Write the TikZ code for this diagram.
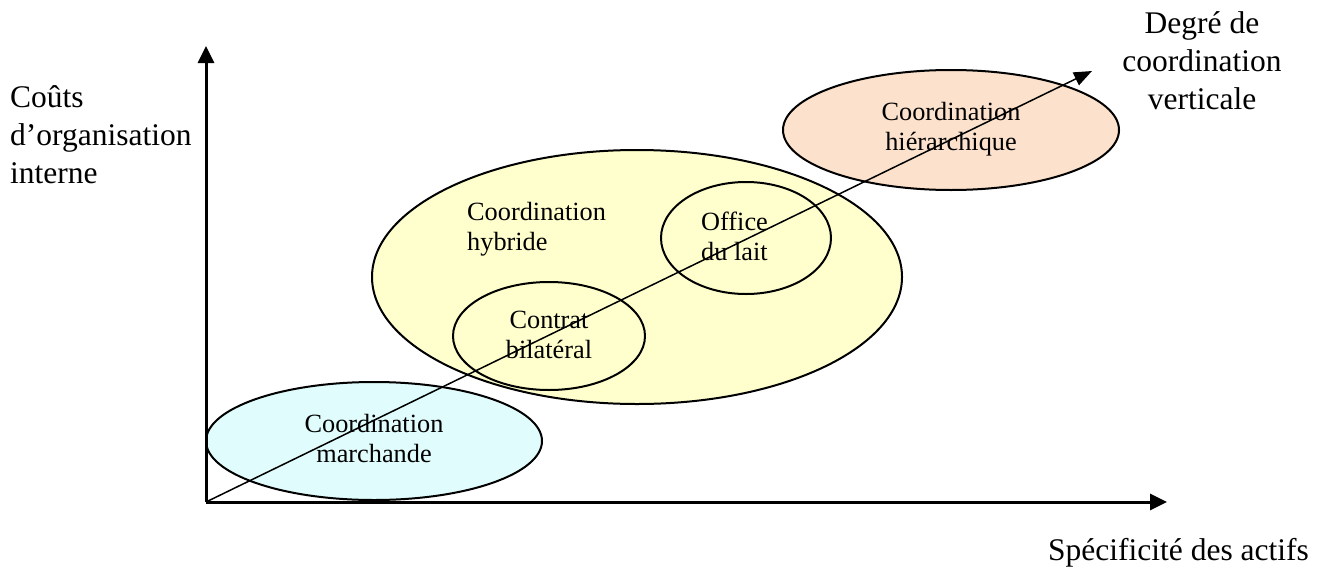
\documentclass[tikz,border=0pt]{standalone}
\usepackage{fontspec}
\setmainfont{Liberation Serif}
\usetikzlibrary{arrows.meta,shapes.geometric}
\definecolor{cyanfill}{RGB}{224,252,252}
\definecolor{yellowfill}{RGB}{255,255,206}
\definecolor{peachfill}{RGB}{252,226,204}
\tikzset{
  zone/.style={draw=black,line width=2pt},
  inner/.style={font=\fontsize{26.3}{30.5}\selectfont,align=center,inner sep=0pt,anchor=base},
  outer/.style={font=\fontsize{31.5}{38}\selectfont,inner sep=0pt},
  axis/.style={line width=3pt,-{Triangle[length=17pt,width=16pt]}},
  diag/.style={line width=1.5pt,-{Triangle[length=18pt,width=14pt]}}
}
\begin{document}
\begin{tikzpicture}[x=1pt,y=-1pt]
\useasboundingbox (0,0) rectangle (1324,570);
% zones
\draw[zone,fill=peachfill] (951,130) ellipse [x radius=168,y radius=60];
\draw[zone,fill=yellowfill] (637,277) ellipse [x radius=265,y radius=127];
\draw[zone] (549,336) ellipse [x radius=96,y radius=54];
\draw[zone] (746,238) ellipse [x radius=85,y radius=56];
\draw[zone,fill=cyanfill] (374,441) ellipse [x radius=168,y radius=59];
% labels in zones (base anchor = baseline of last line)
\node[inner] (march) at (374,462.5) {Coordination\\marchande};
\node[inner,align=left,anchor=base west] (hyb) at (467,250.5) {Coordination\\hybride};
\node[inner] (contrat) at (549,358.5) {Contrat\\bilatéral};
\node[inner,align=left,anchor=base west] (office) at (701,260.5) {Office\\du lait};
\node[inner] (hier) at (951,150.5) {Coordination\\hiérarchique};
% axes
\coordinate (O) at (206,502);
\coordinate (Ytip) at (206,46);
\coordinate (Xtip) at (1167,502);
\coordinate (Dtip) at (1092,71);
\draw[axis] (O) -- (Ytip);
\draw[axis] (O) -- (Xtip);
\draw[diag] (O) -- (Dtip);
% axis labels
\node[outer,align=left,anchor=base west] (ylab) at (10,183) {Coûts\\d’organisation\\interne};
\node[outer,align=center,anchor=base] (dlab) at (1202,109) {Degré de\\coordination\\verticale};
\node[outer,anchor=base west] (xlab) at (1048,560) {Spécificité des actifs};
\end{tikzpicture}
\end{document}
